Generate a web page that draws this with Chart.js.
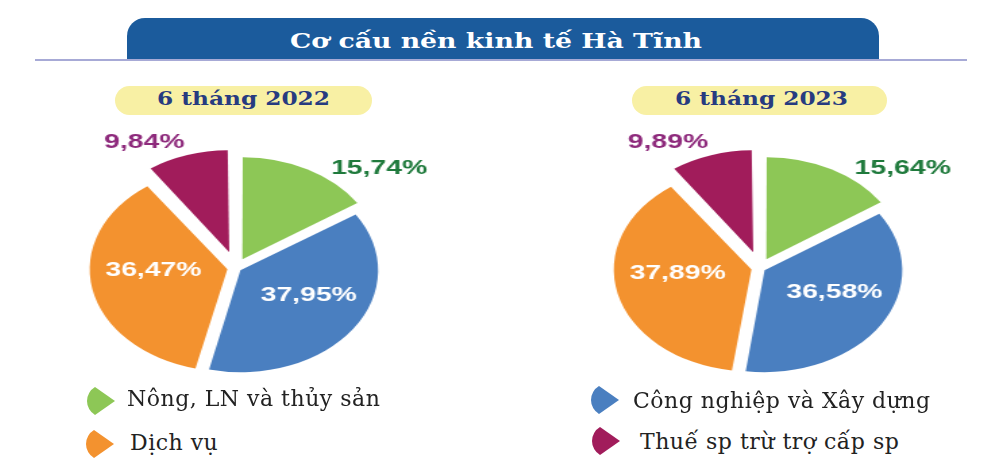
<!DOCTYPE html>
<html lang="vi">
<head>
<meta charset="utf-8">
<title>Cơ cấu nền kinh tế Hà Tĩnh</title>
<script src="https://cdn.jsdelivr.net/npm/chart.js@4.4.0/dist/chart.umd.min.js"></script>
<style>
  html, body { margin: 0; padding: 0; background: #fff; }
  body { width: 1000px; height: 461px; position: relative; overflow: hidden; font-family: 'DejaVu Serif', serif; }
  .banner { position: absolute; left: 127px; top: 18px; width: 752px; height: 41px; background: #1b5b9c; border-radius: 18px 18px 0 0; }
  .rule { position: absolute; left: 35px; top: 59px; width: 932px; height: 2px; background: #a7aad6; }
  .pill { position: absolute; top: 86px; height: 29px; border-radius: 15px; background: #f8f0a4; }
  .txt { position: absolute; white-space: nowrap; display: inline-block; transform-origin: 0 50%; }
  .title { color: #fff; font: bold 21px/21px 'DejaVu Serif', serif; }
  .sub { color: #273b80; font: bold 18px/18px 'DejaVu Serif', serif; }
  .leg { color: #222; font: 22px/22px 'DejaVu Serif', serif; letter-spacing: 0.5px; }
  .pie { position: absolute; top: 123px; width: 320px; height: 290px; transform: scaleX(1.35); transform-origin: 50% 50%; }
  .mark { position: absolute; }
</style>
</head>
<body>
<div class="banner"></div>
<div class="rule"></div>
<span class="txt title" id="title" style="left:290px; top:30px;">Cơ cấu nền kinh tế Hà Tĩnh</span>

<div class="pill" style="left:115px; width:257px;"></div>
<div class="pill" style="left:632px; width:255px;"></div>
<span class="txt sub" id="sub1" style="left:157px; top:90px;"></span>
<span class="txt sub" id="sub2" style="left:675px; top:90px;"></span>

<div class="pie" style="left:76px;"><canvas id="pie2022"></canvas></div>
<div class="pie" style="left:600px;"><canvas id="pie2023"></canvas></div>

<div id="legend"></div>

<script>
// dữ liệu
const categories = ['Nông, LN và thủy sản', 'Công nghiệp và Xây dựng', 'Dịch vụ', 'Thuế sp trừ trợ cấp sp'];
const periods = ['6 tháng 2022', '6 tháng 2023'];
const share2022 = [15.74, 37.95, 36.47, 9.84];
const share2023 = [15.64, 36.58, 37.89, 9.89];

// màu
const sliceColors = ['#8dc756', '#4a7fc0', '#f3922f', '#a11c5b'];
const labelColors = ['#1f7a3c', '#ffffff', '#ffffff', '#8e2a7c'];

// độ tách lát (Chart.js dịch lát đi offset/4)
const sliceExplode = [40, 16, 26, 66];

// vị trí nhãn so với lát (góc lệch, khoảng cách theo bán kính)
const labelPlace = [
    { turn: 18.5, dist: 1.425 },
    { turn: -8.5, dist: 0.59 },
    { turn: 8.7, dist: 0.6 },
    { turn: -10.7, dist: 1.4 }
];

// chú thích: ô màu và chữ
const legendSpots = [
    { mx: 87, my: 387, tx: 127, ty: 388 },
    { mx: 591, my: 386, tx: 633, ty: 390 },
    { mx: 86, my: 430, tx: 130, ty: 432 },
    { mx: 592, my: 427, tx: 640, ty: 431 }
];

function fmt(v) {
    return v.toFixed(2).replace('.', ',') + '%';
}

// kéo giãn chữ theo chiều ngang cho vừa bề rộng (ảnh gốc bị kéo ngang)
function fitWidth(el, target) {
    const w = el.getBoundingClientRect().width;
    el.style.transform = 'scaleX(' + (target / w) + ')';
}

// giữ bán kính các lát bằng nhau khi tách lát
const evenRadius = {
    id: 'evenRadius',
    afterDatasetUpdate(chart, args) {
        const ctrl = args.meta.controller;
        args.meta.data.forEach(arc => {
            const fix = 1 - Math.sin(Math.min(Math.PI, arc.circumference));
            arc.outerRadius = ctrl.outerRadius - (arc.options.offset / 4) * fix;
        });
    }
};

const sliceLabels = {
    id: 'sliceLabels',
    afterDatasetsDraw(chart, args, opts) {
        const ctx = chart.ctx;
        const meta = chart.getDatasetMeta(0);
        const values = chart.data.datasets[0].data;
        const radius = meta.controller.outerRadius;
        ctx.save();
        ctx.font = opts.font;
        ctx.textAlign = 'center';
        ctx.textBaseline = 'middle';
        meta.data.forEach((arc, i) => {
            const p = arc.getProps(['x', 'y', 'startAngle', 'endAngle']);
            const a = (p.startAngle + p.endAngle) / 2 + labelPlace[i].turn * Math.PI / 180;
            const r = radius * labelPlace[i].dist;
            ctx.fillStyle = labelColors[i];
            ctx.fillText(fmt(values[i]), p.x + Math.cos(a) * r, p.y + Math.sin(a) * r);
        });
        ctx.restore();
    }
};

function makePie(id, values) {
    return new Chart(document.getElementById(id), {
        type: 'pie',
        data: {
            labels: categories,
            datasets: [{
                data: values,
                backgroundColor: sliceColors,
                borderWidth: 0,
                offset: sliceExplode,
                radius: 102
            }]
        },
        options: {
            responsive: true,
            maintainAspectRatio: false,
            animation: false,
            events: [],
            layout: { padding: 0 },
            plugins: {
                legend: { display: false },
                tooltip: { enabled: false },
                sliceLabels: { font: "bold 21px 'Liberation Sans', Arial, sans-serif" }
            }
        },
        plugins: [evenRadius, sliceLabels]
    });
}

makePie('pie2022', share2022);
makePie('pie2023', share2023);

// tiêu đề
const sub1 = document.getElementById('sub1');
const sub2 = document.getElementById('sub2');
sub1.textContent = periods[0];
sub2.textContent = periods[1];
fitWidth(document.getElementById('title'), 412);
fitWidth(sub1, 173);
fitWidth(sub2, 173);

// chú thích
const legend = document.getElementById('legend');
categories.forEach((name, i) => {
    const s = legendSpots[i];
    const svgNS = 'http://www.w3.org/2000/svg';
    const svg = document.createElementNS(svgNS, 'svg');
    svg.setAttribute('class', 'mark');
    svg.setAttribute('width', 28);
    svg.setAttribute('height', 28);
    svg.style.left = s.mx + 'px';
    svg.style.top = s.my + 'px';
    const path = document.createElementNS(svgNS, 'path');
    path.setAttribute('d', 'M28 14 L8 0 A16.25 16.25 0 0 0 8 28 Z');
    path.setAttribute('fill', sliceColors[i]);
    svg.appendChild(path);
    legend.appendChild(svg);

    const t = document.createElement('span');
    t.className = 'txt leg';
    t.textContent = name;
    t.style.left = s.tx + 'px';
    t.style.top = s.ty + 'px';
    legend.appendChild(t);
});
</script>
</body>
</html>
